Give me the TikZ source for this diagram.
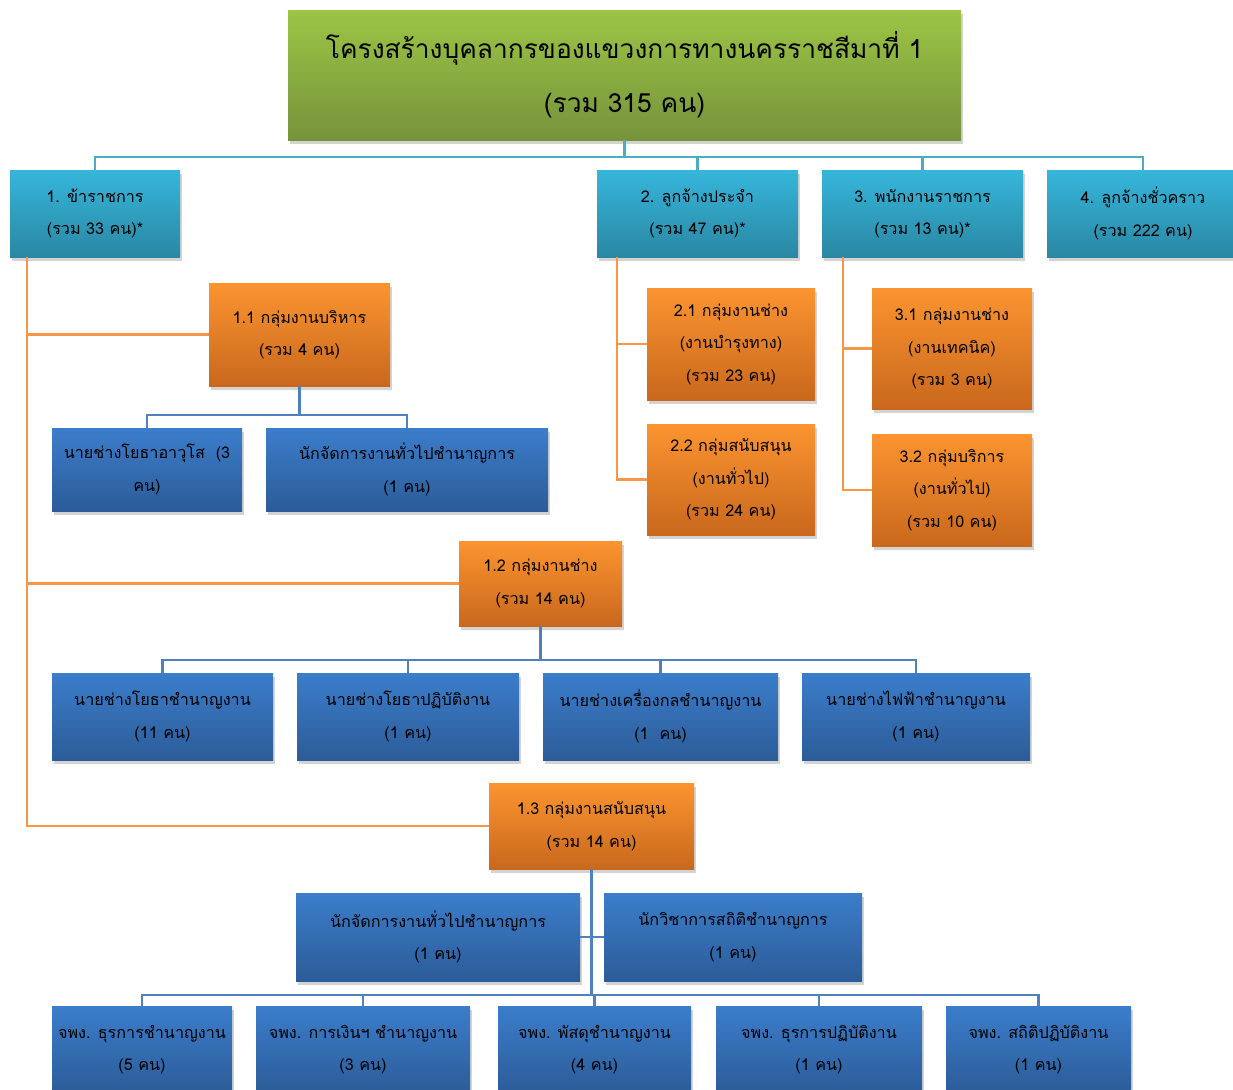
\documentclass[tikz,border=0pt]{standalone}
\usepackage{fontspec}
\setmainfont[Script=Thai]{Loma}
\usetikzlibrary{shadows,calc}
\definecolor{titletop}{HTML}{9CC545}
\definecolor{titlebot}{HTML}{76933C}
\definecolor{cyantop}{HTML}{36B6DB}
\definecolor{cyanbot}{HTML}{2A87A3}
\definecolor{orantop}{HTML}{FB9430}
\definecolor{oranbot}{HTML}{C9681D}
\definecolor{bluetop}{HTML}{3B7DCB}
\definecolor{bluebot}{HTML}{2C5C98}
\definecolor{linecyan}{HTML}{4BACC6}
\definecolor{lineoran}{HTML}{F79646}
\definecolor{lineblue}{HTML}{4F81BD}
\newcommand{\pxu}{0.02cm}

\begin{document}
\begin{tikzpicture}[x=0.02cm,y=-0.02cm,
  box/.style={anchor=north west,rectangle,inner sep=0pt,outer sep=0pt,align=center,
    font=\fontsize{9.2}{18.5}\selectfont,
    drop shadow={shadow xshift=1pt,shadow yshift=-2pt,opacity=0.35}},
  titlebox/.style={box,top color=titletop,bottom color=titlebot,font=\fontsize{15}{30.5}\selectfont},
  cyanbox/.style={box,top color=cyantop,bottom color=cyanbot},
  oranbox/.style={box,top color=orantop,bottom color=oranbot},
  bluebox/.style={box,top color=bluetop,bottom color=bluebot},
  cyanline/.style={draw=linecyan,line width=1.2pt},
  oranline/.style={draw=lineoran,line width=1.2pt},
  blueline/.style={draw=lineblue,line width=1.2pt}]
\useasboundingbox (0,0) rectangle (1233,1089);

\node[titlebox,minimum width=673*\pxu,minimum height=130*\pxu] (top) at (288,10) {โครงสร้างบุคลากรของแขวงการทางนครราชสีมาที่ 1\\(รวม 315 คน)};

\node[cyanbox,minimum width=170*\pxu,minimum height=87*\pxu] (e1) at (10,170) {1. ข้าราชการ\\(รวม 33 คน)*};
\node[cyanbox,minimum width=201*\pxu,minimum height=87*\pxu] (e2) at (597,170) {2. ลูกจ้างประจำ\\(รวม 47 คน)*};
\node[cyanbox,minimum width=201*\pxu,minimum height=87*\pxu] (e3) at (822,170) {3. พนักงานราชการ\\(รวม 13 คน)*};
\node[cyanbox,minimum width=192*\pxu,minimum height=87*\pxu] (e4) at (1047,170) {4. ลูกจ้างชั่วคราว\\(รวม 222 คน)};

\node[oranbox,minimum width=181*\pxu,minimum height=103*\pxu] (g11) at (209,283) {1.1 กลุ่มงานบริหาร\\(รวม 4 คน)};
\node[oranbox,minimum width=163*\pxu,minimum height=85*\pxu] (g12) at (459,541) {1.2 กลุ่มงานช่าง\\(รวม 14 คน)};
\node[oranbox,minimum width=205*\pxu,minimum height=86*\pxu] (g13) at (489,783) {1.3 กลุ่มงานสนับสนุน\\(รวม 14 คน)};
\node[oranbox,minimum width=168*\pxu,minimum height=112*\pxu] (g21) at (647,288) {2.1 กลุ่มงานช่าง\\(งานบำรุงทาง)\\(รวม 23 คน)};
\node[oranbox,minimum width=168*\pxu,minimum height=111*\pxu] (g22) at (647,424) {2.2 กลุ่มสนับสนุน\\(งานทั่วไป)\\(รวม 24 คน)};
\node[oranbox,minimum width=160*\pxu,minimum height=121*\pxu] (g31) at (872,288) {3.1 กลุ่มงานช่าง\\(งานเทคนิค)\\(รวม 3 คน)};
\node[oranbox,minimum width=160*\pxu,minimum height=112*\pxu] (g32) at (872,434) {3.2 กลุ่มบริการ\\(งานทั่วไป)\\(รวม 10 คน)};

\node[bluebox,minimum width=190*\pxu,minimum height=83*\pxu] (p111) at (52,428) {นายช่างโยธาอาวุโส~~(3\\คน)};
\node[bluebox,minimum width=282*\pxu,minimum height=83*\pxu] (p112) at (266,428) {นักจัดการงานทั่วไปชำนาญการ\\(1 คน)};
\node[bluebox,minimum width=221*\pxu,minimum height=87*\pxu] (p121) at (52,673) {นายช่างโยธาชำนาญงาน\\(11 คน)};
\node[bluebox,minimum width=222*\pxu,minimum height=87*\pxu] (p122) at (297,673) {นายช่างโยธาปฏิบัติงาน\\(1 คน)};
\node[bluebox,minimum width=235*\pxu,minimum height=87*\pxu] (p123) at (543,673) {นายช่างเครื่องกลชำนาญงาน\\(1~~คน)};
\node[bluebox,minimum width=228*\pxu,minimum height=87*\pxu] (p124) at (802,673) {นายช่างไฟฟ้าชำนาญงาน\\(1 คน)};
\node[bluebox,minimum width=284*\pxu,minimum height=88*\pxu] (p131) at (296,893) {นักจัดการงานทั่วไปชำนาญการ\\(1 คน)};
\node[bluebox,minimum width=258*\pxu,minimum height=88*\pxu] (p132) at (604,893) {นักวิชาการสถิติชำนาญการ\\(1 คน)};

\node[bluebox,minimum width=180*\pxu,minimum height=87*\pxu] (q1) at (52,1006) {จพง. ธุรการชำนาญงาน\\(5 คน)};
\node[bluebox,minimum width=214*\pxu,minimum height=87*\pxu] (q2) at (256,1006) {จพง. การเงินฯ ชำนาญงาน\\(3 คน)};
\node[bluebox,minimum width=193*\pxu,minimum height=87*\pxu] (q3) at (498,1006) {จพง. พัสดุชำนาญงาน\\(4 คน)};
\node[bluebox,minimum width=206*\pxu,minimum height=87*\pxu] (q4) at (716,1006) {จพง. ธุรการปฏิบัติงาน\\(1 คน)};
\node[bluebox,minimum width=185*\pxu,minimum height=87*\pxu] (q5) at (946,1006) {จพง. สถิติปฏิบัติงาน\\(1 คน)};

\draw[cyanline] (top.south) -- ++(0,17) coordinate (bus0);
\foreach \n in {e1,e2,e3,e4} \draw[cyanline] (bus0) -| (\n.north);

\foreach \g in {g11,g12,g13} \draw[oranline] ($(e1.south west)+(17,0)$) |- (\g.west);
\foreach \g in {g21,g22} \draw[oranline] ($(e2.south west)+(20,0)$) |- (\g.west);
\foreach \g in {g31,g32} \draw[oranline] ($(e3.south west)+(21,0)$) |- (\g.west);

\foreach \p in {p111,p112} \draw[blueline] (g11.south) -- ++(0,29) -| (\p.north);
\foreach \p in {p121,p122,p123,p124} \draw[blueline] (g12.south) -- ++(0,34) -| (\p.north);
\draw[blueline] (g13.south) -- ++(0,126) coordinate (bus3);
\draw[blueline] (p131.east) -- (p132.west);
\foreach \q in {q1,q2,q3,q4,q5} \draw[blueline] (bus3) -| (\q.north);
\end{tikzpicture}
\end{document}
